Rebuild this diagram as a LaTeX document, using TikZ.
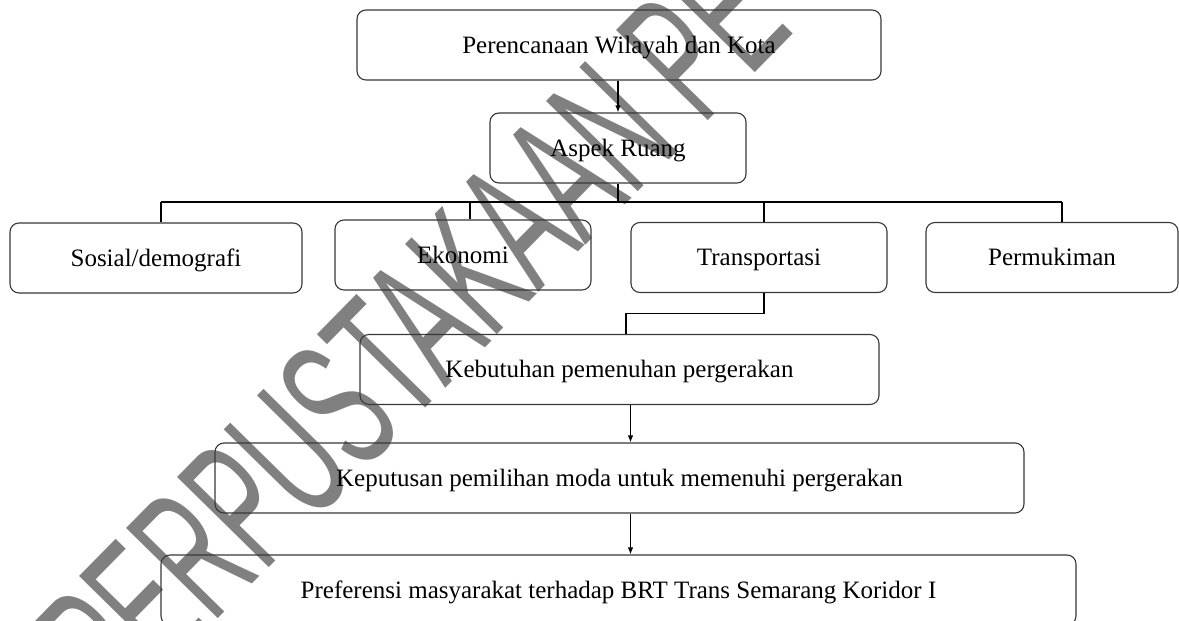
\documentclass[tikz,border=0pt]{standalone}
\usepackage{fontspec}
\setmainfont{Liberation Serif}
\newfontfamily\wmfont{Liberation Sans}
\usetikzlibrary{arrows.meta,calc}
\begin{document}
\begin{tikzpicture}[x=1pt,y=-1pt,
  box/.style={draw=black!78, line width=1.1pt, rounded corners=9pt, inner sep=0pt,
    text height=16.5pt, text depth=0pt, font=\fontsize{25}{30}\selectfont, minimum height=70pt},
  conn/.style={draw=black, line width=1.2pt},
  arr/.style={conn, -{Latex[length=7pt,width=5.5pt]}},
  wm/.style={text=black!50, rotate=45.5, anchor=base west, inner sep=0pt}]
\useasboundingbox (0,0) rectangle (1179,621);
\clip (0,0) rectangle (1179,621);
% watermark (behind the diagram)
\node[wm] (wmark) at (119,720) {\scalebox{0.535}[1]{\wmfont\fontsize{187}{187}\selectfont PERPUSTAKAAN PE}};
% boxes
\node[box, minimum width=524pt] (pwk) at (619,45) {Perencanaan Wilayah dan Kota};
\node[box, minimum width=256pt] (asp) at (618,148) {Aspek Ruang};
\node[box, minimum width=292pt] (sos) at (156,258) {Sosial/demografi};
\node[box, minimum width=256pt] (eko) at (463,255) {Ekonomi};
\node[box, minimum width=256pt] (tra) at (759,257.5) {Transportasi};
\node[box, minimum width=252pt] (per) at (1052,257.5) {Permukiman};
\node[box, minimum width=519pt] (keb) at (619.5,369.5) {Kebutuhan pemenuhan pergerakan};
\node[box, minimum width=809pt] (kep) at (619.5,478) {Keputusan pemilihan moda untuk memenuhi pergerakan};
\node[box, minimum width=915pt] (pre) at (618.5,590) {Preferensi masyarakat terhadap BRT Trans Semarang Koridor I};
% connectors
\draw[arr] (pwk.south -| asp.north) -- (asp.north);
\coordinate (busL) at (161,202);
\coordinate (busR) at (1062,202);
\coordinate (dE) at (470,202);
\coordinate (dT) at (764,202);
\draw[conn] (asp.south) -- (asp.south |- busL);
\draw[conn] (busL) -- (busR);
\draw[conn] (busL) -- (busL |- sos.north);
\draw[conn] (dE) -- (dE |- eko.north);
\draw[conn] (dT) -- (dT |- tra.north);
\draw[conn] (busR) -- (busR |- per.north);
\coordinate (kt) at (626,313.5);
\draw[conn] (tra.south -| dT) |- (kt) -- (kt |- keb.north);
\coordinate (ax) at (630.5,0);
\draw[arr] (keb.south -| ax) -- (kep.north -| ax);
\draw[arr] (kep.south -| ax) -- (pre.north -| ax);
\end{tikzpicture}
\end{document}
